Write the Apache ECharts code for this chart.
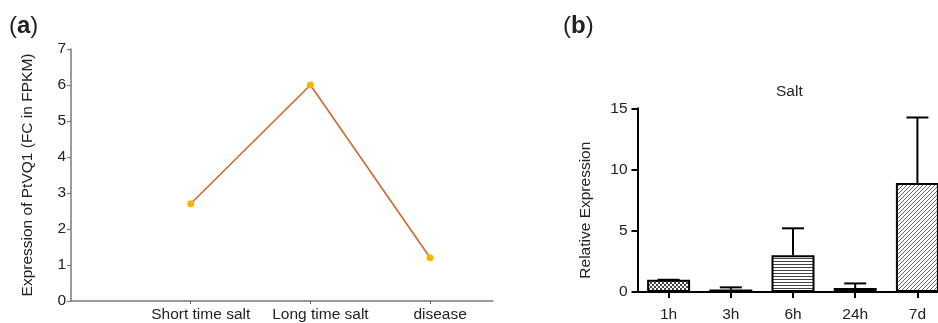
<!DOCTYPE html>
<html>
<head>
<meta charset="utf-8">
<script src="https://cdn.jsdelivr.net/npm/echarts@6/dist/echarts.min.js"></script>
<style>
html,body{margin:0;padding:0;background:#fff;}
#chart{width:938px;height:323px;}
</style>
</head>
<body>
<div id="chart"></div>
<script>
// Panel (a) data
const lineCategories = ['Short time salt', 'Long time salt', 'disease'];
const lineValues = [2.7, 6.0, 1.2];
const lineYTicks = [0, 1, 2, 3, 4, 5, 6, 7];

// Panel (b) data
const barCategories = ['1h', '3h', '6h', '24h', '7d'];
const barValues = [1.0, 0.2, 3.0, 0.32, 8.9];
const barErrorTop = [1.0, 0.38, 5.2, 0.7, 14.25];
const barPatterns = ['dots', 'solid', 'hlines', 'dashed', 'diag'];
const barYTicks = [0, 5, 10, 15];

const FONT = "'Liberation Sans', Arial, sans-serif";

function makePattern(type) {
  if (type === 'solid') return '#111';
  const c = document.createElement('canvas');
  let w = 4, h = 4;
  if (type === 'hlines') { w = 4; h = 3; }
  if (type === 'dashed') { w = 6; h = 3; }
  c.width = w; c.height = h;
  const ctx = c.getContext('2d');
  ctx.fillStyle = '#fff';
  ctx.fillRect(0, 0, w, h);
  ctx.fillStyle = '#444';
  if (type === 'dots') {
    ctx.fillRect(0, 0, 2, 2);
    ctx.fillRect(2, 2, 2, 2);
  } else if (type === 'hlines') {
    ctx.fillRect(0, 0, w, 1);
  } else if (type === 'dashed') {
    ctx.fillRect(0, 0, 4, 1);
  } else if (type === 'diag') {
    ctx.fillStyle = '#666';
    for (let i = 0; i < 4; i++) ctx.fillRect(i, 3 - i, 1, 1);
  }
  return { image: c, repeat: 'repeat' };
}

const barPos = barCategories.map((c, i) => i + 0.5);

const chart = echarts.init(document.getElementById('chart'), null, { renderer: 'canvas' });

const option = {
  animation: false,
  backgroundColor: '#fff',
  textStyle: { fontFamily: FONT },
  graphic: [
    {
      type: 'text', left: 9, top: 14,
      style: {
        text: '{p|(}{b|a}{p|)}',
        rich: {
          p: { fontSize: 24, fontFamily: FONT, fill: '#222' },
          b: { fontSize: 24, fontFamily: FONT, fontWeight: 'bold', fill: '#222' }
        }
      }
    },
    {
      type: 'text', left: 563, top: 14,
      style: {
        text: '{p|(}{b|b}{p|)}',
        rich: {
          p: { fontSize: 24, fontFamily: FONT, fill: '#222' },
          b: { fontSize: 24, fontFamily: FONT, fontWeight: 'bold', fill: '#222' }
        }
      }
    },
    {
      type: 'text', left: 776, top: 84,
      style: { text: 'Salt', fontSize: 15.5, fontFamily: FONT, fill: '#222' }
    }
  ],
  grid: [
    { left: 71, top: 49, width: 422, bottom: 21.3, containLabel: false },
    { left: 637.5, top: 108.3, right: 0, bottom: 28.3, containLabel: false }
  ],
  xAxis: [
    {
      gridIndex: 0, type: 'value', min: 0, max: 3.525,
      splitLine: { show: false },
      axisLine: { show: true, lineStyle: { color: '#7a7a7a', width: 1.5 } },
      axisTick: { show: true, length: 3, lineStyle: { color: '#555', width: 1 }, customValues: [1, 2, 3] },
      axisLabel: {
        customValues: [1, 2, 3],
        formatter: v => lineCategories[Math.round(v) - 1] || '',
        fontSize: 15.5, color: '#222', margin: 6, padding: [0, 0, 0, 20], fontFamily: FONT
      }
    },
    {
      gridIndex: 1, type: 'value', min: 0, max: 300.5 / 62.2,
      splitLine: { show: false },
      axisLine: { show: true, lineStyle: { color: '#000', width: 2 } },
      axisTick: { show: true, length: 6, lineStyle: { color: '#000', width: 2 }, customValues: barPos },
      axisLabel: {
        customValues: barPos,
        formatter: v => barCategories[Math.floor(v)] || '',
        fontSize: 15.5, color: '#222', margin: 15, fontFamily: FONT
      }
    }
  ],
  yAxis: [
    {
      gridIndex: 0, type: 'value', min: lineYTicks[0], max: lineYTicks[lineYTicks.length - 1], interval: 1,
      name: 'Expression of PtVQ1 (FC in FPKM)', nameLocation: 'middle', nameGap: 35,
      nameTextStyle: { fontSize: 15.5, color: '#222', fontFamily: FONT },
      splitLine: { show: false },
      axisLine: { show: true, lineStyle: { color: '#7a7a7a', width: 1.5 } },
      axisTick: { show: true, length: 4, lineStyle: { color: '#7a7a7a', width: 1.2 } },
      axisLabel: { fontSize: 15.5, color: '#222', margin: 5, fontFamily: FONT }
    },
    {
      gridIndex: 1, type: 'value', min: barYTicks[0], max: barYTicks[barYTicks.length - 1], interval: 5,
      name: 'Relative Expression', nameLocation: 'middle', nameGap: 44,
      nameTextStyle: { fontSize: 15.5, color: '#222', fontFamily: FONT, padding: [0, 20, 0, 0] },
      splitLine: { show: false },
      axisLine: { show: true, lineStyle: { color: '#000', width: 2 } },
      axisTick: { show: true, length: 6, lineStyle: { color: '#000', width: 2 } },
      axisLabel: { fontSize: 15.5, color: '#222', margin: 10, fontFamily: FONT }
    }
  ],
  series: [
    {
      type: 'line', xAxisIndex: 0, yAxisIndex: 0,
      data: lineValues.map((v, i) => [i + 1, v]),
      lineStyle: { color: '#cc6a2a', width: 1.6 },
      symbol: 'circle', symbolSize: 7,
      itemStyle: { color: '#f7b500', borderWidth: 0 },
      z: 3
    },
    {
      type: 'bar', xAxisIndex: 1, yAxisIndex: 1,
      barWidth: 43,
      data: barValues.map((v, i) => ({
        value: [barPos[i], v],
        itemStyle: { color: makePattern(barPatterns[i]), borderColor: '#000', borderWidth: 2 }
      }))
    },
    {
      type: 'custom', xAxisIndex: 1, yAxisIndex: 1,
      data: barValues.map((v, i) => [barPos[i], v, barErrorTop[i]]),
      renderItem: function (params, api) {
        const p0 = api.coord([api.value(0), api.value(1)]);
        const p1 = api.coord([api.value(0), api.value(2)]);
        const hw = 11;
        const st = { stroke: '#000', lineWidth: 2 };
        return {
          type: 'group',
          children: [
            { type: 'line', shape: { x1: p0[0], y1: p0[1], x2: p1[0], y2: p1[1] }, style: st },
            { type: 'line', shape: { x1: p1[0] - hw, y1: p1[1], x2: p1[0] + hw, y2: p1[1] }, style: st }
          ]
        };
      },
      z: 4
    }
  ]
};

chart.setOption(option);
</script>
</body>
</html>
